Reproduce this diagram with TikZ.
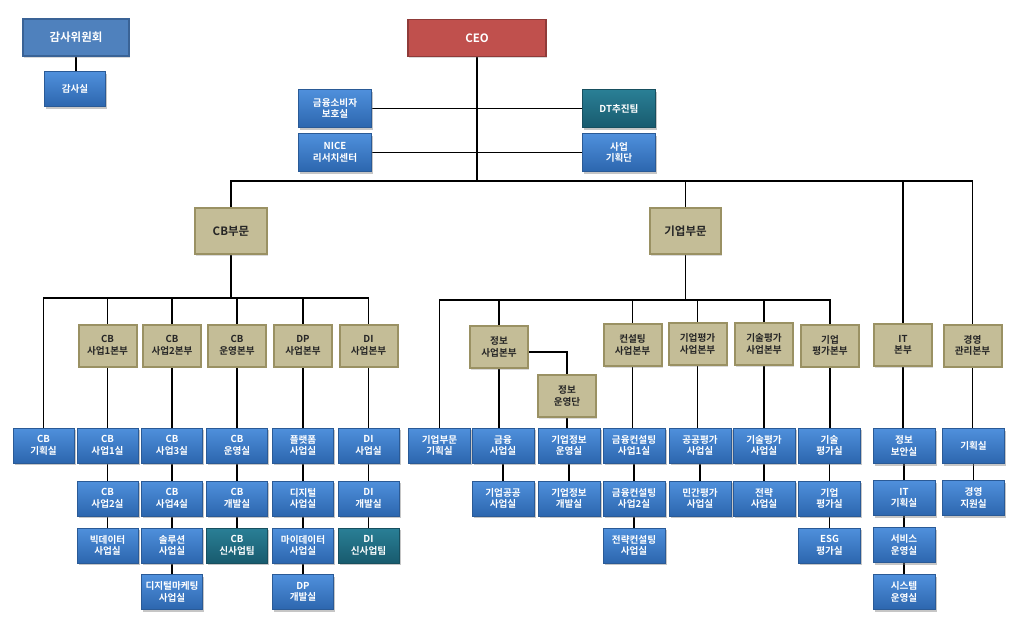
\documentclass[tikz,border=0pt]{standalone}
\usepackage{fontspec}
\setmainfont{Noto Sans CJK KR}[BoldFont={Noto Sans CJK KR Bold}]
\usetikzlibrary{shadows,backgrounds}
\definecolor{blueT}{HTML}{4F90DC}
\definecolor{blueB}{HTML}{2C66AE}
\definecolor{blueD}{HTML}{2A5A96}
\definecolor{tealT}{HTML}{2A7F96}
\definecolor{tealB}{HTML}{185B6E}
\definecolor{tealD}{HTML}{174F5F}
\definecolor{tanF}{HTML}{C4BD97}
\definecolor{tanD}{HTML}{9A9163}
\definecolor{tanText}{HTML}{262626}
\definecolor{ceoF}{HTML}{C0504D}
\definecolor{ceoD}{HTML}{8F3B39}
\definecolor{audF}{HTML}{4F81BD}
\definecolor{audD}{HTML}{3A6396}
\tikzset{
  unit/.style={rectangle, minimum width=61pt, minimum height=35pt, inner sep=1pt,
    align=center, text=white, font=\bfseries\fontsize{9.6}{11.5}\selectfont,
    top color=blueT, bottom color=blueB, draw=blueD, line width=0.6pt,
    drop shadow={shadow xshift=1.6pt, shadow yshift=-2pt, opacity=0.45}},
  tealunit/.style={unit, top color=tealT, bottom color=tealB, draw=tealD},
  hq/.style={rectangle, minimum width=58pt, minimum height=42pt, inner sep=1pt,
    align=center, text=tanText, font=\bfseries\fontsize{9.6}{11.5}\selectfont,
    fill=tanF, draw=tanD, line width=2pt,
    drop shadow={shadow xshift=1.2pt, shadow yshift=-1.5pt, opacity=0.3}},
  topbox/.style={rectangle, inner sep=1pt, align=center, text=white,
    font=\bfseries\fontsize{11.5}{13}\selectfont, line width=1.5pt},
  link/.style={draw=black, line width=1.9pt}
}
\begin{document}
\begin{tikzpicture}[x=1pt, y=-1pt]
\useasboundingbox (0,0) rectangle (1017,633);
% ---- top ----
\node[topbox, fill=audF, draw=audD, minimum width=106pt, minimum height=37pt,
  drop shadow={shadow xshift=1.2pt, shadow yshift=-1.5pt, opacity=0.3}] (aud) at (76,37.5) {감사위원회};
\node[unit, minimum width=61pt, minimum height=35pt] (audr) at (75,89) {감사실};
\node[topbox, fill=ceoF, draw=ceoD, minimum width=138pt, minimum height=37pt,
  drop shadow={shadow xshift=1.2pt, shadow yshift=-1.5pt, opacity=0.3}] (ceo) at (477,38) {CEO};
\node[unit, minimum width=73pt, minimum height=38pt] (fcp) at (335,108.5) {금융소비자\\보호실};
\node[unit, minimum width=73pt, minimum height=38pt] (nice) at (335,152.5) {NICE\\리서치센터};
\node[tealunit, minimum width=73pt, minimum height=38pt] (dt) at (619,108.5) {DT추진팀};
\node[unit, minimum width=73pt, minimum height=38pt] (plan) at (619,152.5) {사업\\기획단};
% ---- divisions ----
\node[hq, minimum width=72pt, minimum height=46pt, font=\bfseries\fontsize{11.5}{13}\selectfont] (cbdiv) at (231,231) {CB부문};
\node[hq, minimum width=71pt, minimum height=46pt, font=\bfseries\fontsize{11.5}{13}\selectfont] (entdiv) at (685.5,231) {기업부문};
% ---- CB section ----
\node[unit] (cb0) at (43.5,445.5) {CB\\기획실};
\node[hq] (cbh1) at (107.5,345.5) {CB\\사업1본부};
\node[hq] (cbh2) at (172,345.5) {CB\\사업2본부};
\node[hq] (cbh3) at (237,345.5) {CB\\운영본부};
\node[hq] (cbh4) at (303,345.5) {DP\\사업본부};
\node[hq] (cbh5) at (368.5,345.5) {DI\\사업본부};
\node[unit] (c11) at (107.5,445.5) {CB\\사업1실};
\node[unit] (c21) at (172,445.5) {CB\\사업3실};
\node[unit] (c31) at (237,445.5) {CB\\운영실};
\node[unit] (c41) at (303,445.5) {플랫폼\\사업실};
\node[unit] (c51) at (368.5,445.5) {DI\\사업실};
\node[unit] (c12) at (107.5,498.5) {CB\\사업2실};
\node[unit] (c22) at (172,498.5) {CB\\사업4실};
\node[unit] (c32) at (237,498.5) {CB\\개발실};
\node[unit] (c42) at (303,498.5) {디지털\\사업실};
\node[unit] (c52) at (368.5,498.5) {DI\\개발실};
\node[unit] (c13) at (107.5,545.5) {빅데이터\\사업실};
\node[unit] (c23) at (172,545.5) {솔루션\\사업실};
\node[tealunit] (c33) at (237,545.5) {CB\\신사업팀};
\node[unit] (c43) at (303,545.5) {마이데이터\\사업실};
\node[tealunit] (c53) at (368.5,545.5) {DI\\신사업팀};
\node[unit] (c24) at (172,592) {디지털마케팅\\사업실};
\node[unit] (c44) at (303,592) {DP\\개발실};
% ---- enterprise section ----
\node[unit, minimum width=62pt] (e0) at (439.5,445.5) {기업부문\\기획실};
\node[hq] (eh1) at (499,347) {정보\\사업본부};
\node[hq] (eops) at (567,396) {정보\\운영단};
\node[hq] (eh2) at (632.5,345) {컨설팅\\사업본부};
\node[hq] (eh3) at (697.5,344) {기업평가\\사업본부};
\node[hq] (eh4) at (764,344) {기술평가\\사업본부};
\node[hq] (eh5) at (830,345.5) {기업\\평가본부};
\node[unit, minimum width=62pt] (e11) at (503,445.5) {금융\\사업실};
\node[unit, minimum width=62pt] (e21) at (569,445.5) {기업정보\\운영실};
\node[unit, minimum width=62pt] (e31) at (634,445.5) {금융컨설팅\\사업1실};
\node[unit, minimum width=62pt] (e41) at (700,445.5) {공공평가\\사업실};
\node[unit, minimum width=62pt] (e51) at (764,445.5) {기술평가\\사업실};
\node[unit, minimum width=62pt] (e61) at (829.5,445.5) {기술\\평가실};
\node[unit, minimum width=62pt] (e12) at (503,498.5) {기업공공\\사업실};
\node[unit, minimum width=62pt] (e22) at (569,498.5) {기업정보\\개발실};
\node[unit, minimum width=62pt] (e32) at (634,498.5) {금융컨설팅\\사업2실};
\node[unit, minimum width=62pt] (e42) at (700,498.5) {민간평가\\사업실};
\node[unit, minimum width=62pt] (e52) at (764,498.5) {전략\\사업실};
\node[unit, minimum width=62pt] (e62) at (829.5,498.5) {기업\\평가실};
\node[unit, minimum width=62pt] (e33) at (634,545.5) {전략컨설팅\\사업실};
\node[unit, minimum width=62pt] (e63) at (829.5,545.5) {ESG\\평가실};
% ---- IT / management ----
\node[hq] (ith) at (903,345) {IT\\본부};
\node[hq] (mh) at (972.5,345.5) {경영\\관리본부};
\node[unit, minimum width=62pt] (i1) at (904,446) {정보\\보안실};
\node[unit, minimum width=62pt] (i2) at (904,498) {IT\\기획실};
\node[unit, minimum width=62pt] (i3) at (904,545) {서비스\\운영실};
\node[unit, minimum width=62pt] (i4) at (904,592) {시스템\\운영실};
\node[unit, minimum width=62pt] (m1) at (973.5,446) {기획실};
\node[unit, minimum width=62pt] (m2) at (973.5,498) {경영\\지원실};
% ---- connectors ----
\coordinate (mainbus) at (0,181);
\coordinate (cbbus) at (0,298);
\coordinate (entbus) at (0,300);
\begin{scope}[on background layer]
\draw[link] (aud.south) -- (aud.south |- audr.north);
\draw[link] (ceo.south) -- (ceo.south |- mainbus);
\draw[link] (fcp.east) -- (dt.west);
\draw[link] (nice.east) -- (plan.west);
\draw[link] (cbdiv.north) -- (cbdiv.north |- mainbus) -- (mh.north |- mainbus) -- (mh.north);
\draw[link] (entdiv.north) -- (entdiv.north |- mainbus);
\draw[link] (ith.north) -- (ith.north |- mainbus);
% CB bus
\draw[link] (cbdiv.south) -- (cbdiv.south |- cbbus);
\draw[link] (cb0.north) -- (cb0.north |- cbbus) -- (cbh5.north |- cbbus) -- (cbh5.north);
\foreach \n in {cbh1,cbh2,cbh3,cbh4} \draw[link] (\n.north) -- (\n.north |- cbbus);
% enterprise bus
\draw[link] (entdiv.south) -- (entdiv.south |- entbus);
\draw[link] (e0.north) -- (e0.north |- entbus) -- (eh5.north |- entbus) -- (eh5.north);
\foreach \n in {eh1,eh2,eh3,eh4} \draw[link] (\n.north) -- (\n.north |- entbus);
\draw[link] ([yshift=-5pt]eh1.east) -| (eops.north);
% chains
\foreach \a/\b in {cbh1/c11,c11/c12,c12/c13, cbh2/c21,c21/c22,c22/c23,c23/c24,
  cbh3/c31,c31/c32,c32/c33, cbh4/c41,c41/c42,c42/c43,c43/c44,
  cbh5/c51,c51/c52,c52/c53,
  eh1/e11,e11/e12, eops/e21,e21/e22, eh2/e31,e31/e32,e32/e33,
  eh3/e41,e41/e42, eh4/e51,e51/e52, eh5/e61,e61/e62,e62/e63,
  ith/i1,i1/i2,i2/i3,i3/i4, mh/m1,m1/m2}
  \draw[link] (\a.south) -- (\a.south |- \b.north);
\end{scope}
\end{tikzpicture}
\end{document}
